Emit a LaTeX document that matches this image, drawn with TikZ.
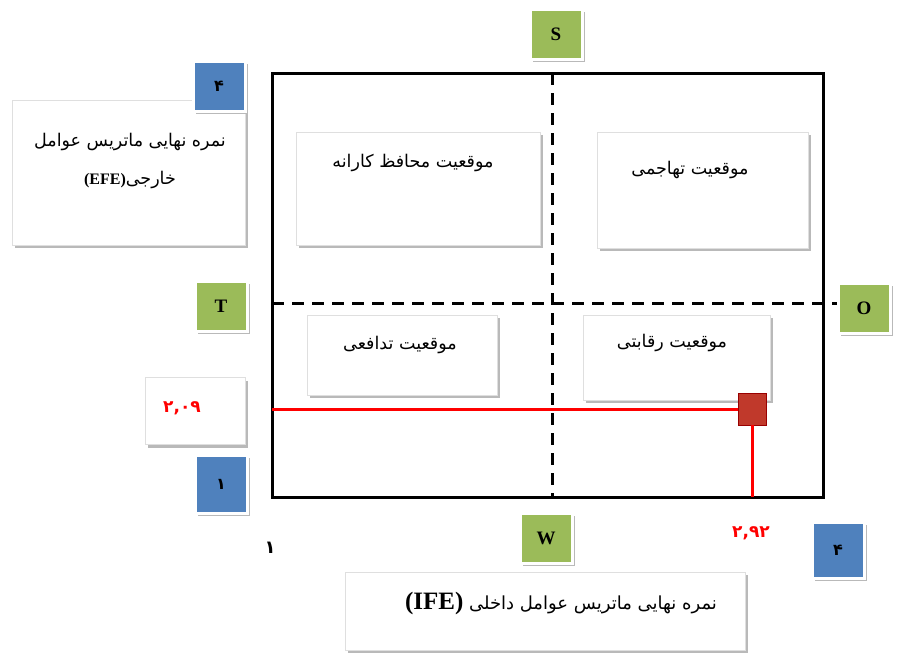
\documentclass[tikz,border=0pt]{standalone}
\usepackage{fontspec}
\setmainfont{Liberation Serif}
\newfontfamily\fa[Script=Arabic]{DejaVu Sans}
\TeXXeTstate=1
\usetikzlibrary{shadows}

\definecolor{tagGreen}{HTML}{9BBB59}
\definecolor{tagBlue}{HTML}{4F81BD}
\definecolor{markRed}{HTML}{C0392B}

\begin{document}
\begin{tikzpicture}[x=1pt, y=-1pt,
    card/.style={draw=gray!25, fill=white, drop shadow={shadow xshift=2.5pt, shadow yshift=-3pt, fill=gray!55, opacity=1}, inner sep=0pt},
    tag/.style={draw=white, line width=3pt, drop shadow={shadow xshift=3pt, shadow yshift=-3pt, fill=gray!55, opacity=1}, font=\bfseries\fontsize{19}{19}\selectfont, inner sep=0pt},
    gtag/.style={tag, fill=tagGreen, minimum width=52pt, minimum height=50pt},
    btag/.style={tag, fill=tagBlue, minimum width=52pt, minimum height=50pt, font=\fa\bfseries\fontsize{16}{16}\selectfont},
    fatext/.style={font=\fa\fontsize{17.5}{38}\selectfont, align=center},
    score/.style={font=\fa\bfseries\fontsize{17}{17}\selectfont, text=red},
    axis/.style={line width=3pt, dash pattern=on 12pt off 8pt},
    redline/.style={red, line width=3pt}]
    \useasboundingbox (0,0) rectangle (897,667);

    % side cards
    \node[card, minimum width=233pt, minimum height=145pt] (efe) at (128.5,172.5) {};
    \node[fatext] (efetext) at (130,161) {\beginR نمره نهایی ماتریس عوامل\endR\\\beginR خارجی\beginL\textrm{\bfseries\fontsize{16}{16}\selectfont(EFE)}\endL\endR};
    \node[card, minimum width=100pt, minimum height=67pt] (lowcard) at (195,411) {};
    \node[card, minimum width=400pt, minimum height=78pt] (ife) at (545,611) {};
    \node[fatext, font=\fa\fontsize{18}{18}\selectfont] (ifetext) at (561,603) {\beginR نمره نهایی ماتریس عوامل داخلی \beginL\textrm{\bfseries\fontsize{25}{25}\selectfont(IFE)}\endL\endR};

    % main frame
    \draw[line width=3pt] (272,73) rectangle (823,497);
    \coordinate (ytop) at (552,73);
    \coordinate (ybot) at (552,497);
    \coordinate (xleft) at (272,303);
    \coordinate (xright) at (838,303);
    \draw[axis] (ytop) -- (ybot);
    \draw[axis] (xleft) -- (xright);

    % quadrants
    \node[card, minimum width=244pt, minimum height=113pt] (cons) at (418,188.5) {};
    \node[card, minimum width=211pt, minimum height=116pt] (aggr) at (702.5,190) {};
    \node[card, minimum width=190pt, minimum height=80pt] (defn) at (402,355) {};
    \node[card, minimum width=187pt, minimum height=85pt] (comp) at (676.5,357.5) {};
    \node[fatext] (constext) at (413,163) {\beginR موقعیت محافظ کارانه\endR};
    \node[fatext] (aggrtext) at (690,170) {\beginR موقعیت تهاجمی\endR};
    \node[fatext] (defntext) at (400,345) {\beginR موقعیت تدافعی\endR};
    \node[fatext] (comptext) at (672,343) {\beginR موقعیت رقابتی\endR};

    % tags
    \node[gtag] (S) at (556,34) {S};
    \node[gtag] (T) at (221,306) {T};
    \node[gtag] (O) at (864,308) {O};
    \node[gtag] (W) at (546,538) {W};
    \node[btag] (efemax) at (219,86) {۴};
    \node[btag, minimum height=58pt] (efemin) at (221,484) {۱};
    \node[btag, minimum height=56pt] (ifemax) at (838,550) {۴};
    \node[font=\fa\bfseries\fontsize{18}{18}\selectfont] (ifemin) at (270,548) {۱};

    % scores
    \node[score] (efescore) at (182,408) {۲,۰۹};
    \node[score] (ifescore) at (751,533) {۲,۹۲};
    \node[fill=markRed, draw=red!60!black, minimum width=28pt, minimum height=32pt, inner sep=0pt] (mark) at (752,409) {};
    \coordinate (hstart) at (272,409);
    \coordinate (vend) at (752,497);
    \draw[redline] (hstart) -- (mark.west);
    \draw[redline] (mark.south) -- (vend);
\end{tikzpicture}
\end{document}
